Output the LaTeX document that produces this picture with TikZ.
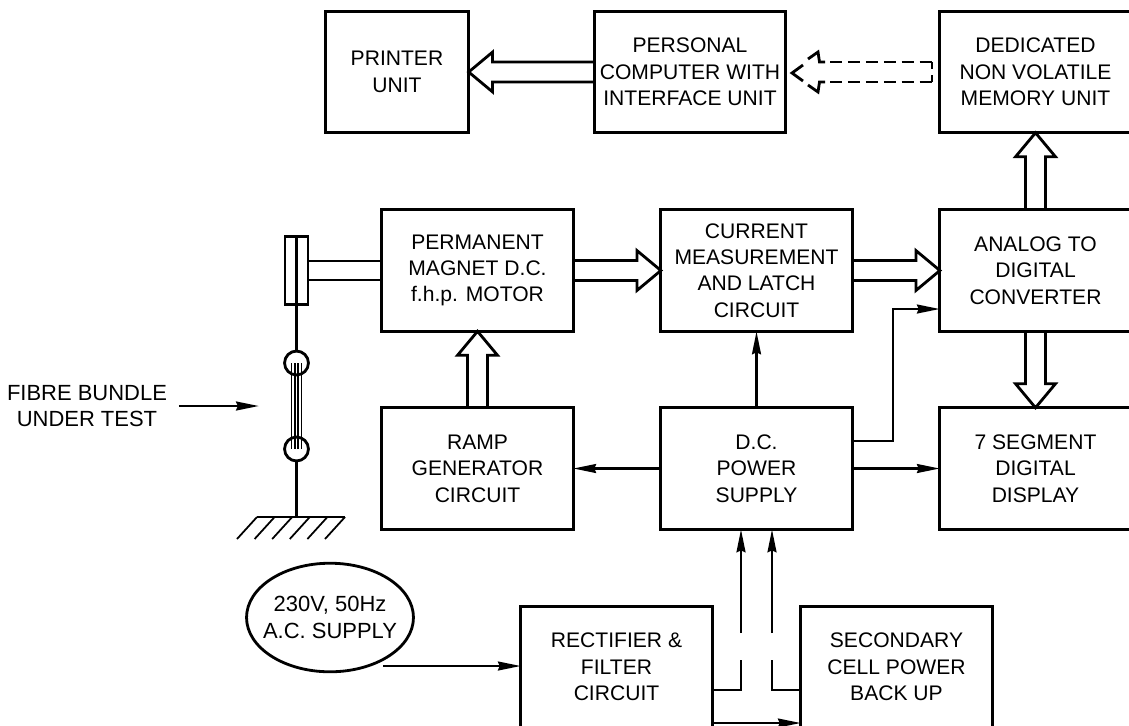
\documentclass[tikz,border=0pt]{standalone}
\usepackage{fontspec}
\setmainfont{Liberation Sans}
\usetikzlibrary{arrows.meta}
\usetikzlibrary{calc}
\usetikzlibrary{shapes.geometric}
\tikzset{block/.style = {draw, align = center, outer sep = 0, inner sep = 0,
                         minimum width = 108.85pt, minimum height = 69.2pt,
                         font = \fontsize{12}{15}\selectfont}}
\tikzset{label/.style = {align = center, outer sep = 0, inner ysep = 0, inner xsep = 6.8pt,
                         font = \fontsize{12.5}{15}\selectfont}}
\tikzset{grip/.style = {draw, circle, outer sep = 0, inner sep = 0, minimum size = 13.6pt}}
\tikzset{fatline/.style = {line join = miter, line cap = butt}}
\newcommand{\fatarrow}[2]{
  \coordinate (neck) at ($(#2)!13.6pt!(#1)$);
  \draw [fatline] ($(#1)!5.67pt!90:(#2)$) -- ($(neck)!5.67pt!90:(#2)$)
    -- ($(neck)!11.34pt!90:(#2)$) -- (#2) -- ($(neck)!11.34pt!-90:(#2)$)
    -- ($(neck)!5.67pt!-90:(#2)$) -- ($(#1)!5.67pt!-90:(#2)$);
}
\begin{document}
\begin{tikzpicture}[x = 0.02cm, y = -0.02cm, line width = 1.6pt,
                    >={Stealth[length = 13pt, width = 5pt, inset = 1pt]}]
  \useasboundingbox (0, 0) rectangle (1129, 725);
  \clip (0, 0) rectangle (1129, 725);

  \node [block, minimum width = 81.6pt] (printer) at (397, 72) {PRINTER\\UNIT};
  \node [block] (personal) at (690, 72) {PERSONAL\\COMPUTER WITH\\INTERFACE UNIT};
  \node [block] (memory) at (1035.5, 72) {DEDICATED\\NON VOLATILE\\MEMORY UNIT};
  \node [block] (motor) at (477.5, 270.5) {PERMANENT\\MAGNET D.C.\\f.h.p. MOTOR};
  \node [block] (current) at (756.5, 270.5) {CURRENT\\MEASUREMENT\\AND LATCH\\CIRCUIT};
  \node [block] (adc) at (1035.5, 270.5) {ANALOG TO\\DIGITAL\\CONVERTER};
  \node [block] (ramp) at (477.5, 468.5) {RAMP\\GENERATOR\\CIRCUIT};
  \node [block] (supply) at (756.5, 468.5) {D.C.\\POWER\\SUPPLY};
  \node [block] (display) at (1035.5, 468.5) {7 SEGMENT\\DIGITAL\\DISPLAY};
  \node [block] (rectifier) at (616.5, 667) {RECTIFIER \&\\FILTER\\CIRCUIT};
  \node [block] (secondary) at (896.5, 667) {SECONDARY\\CELL POWER\\BACK UP};
  \node [label] (fibre) at (87, 406) {FIBRE BUNDLE\\UNDER TEST};
  \node [block, ellipse, inner xsep = -4.5pt, minimum width = 94.1pt, minimum height = 61.8pt,
         font = \fontsize{12.5}{15}\selectfont] (mains) at (330, 617.5) {230V, 50Hz\\A.C. SUPPLY};

  % test rig
  \node [draw, outer sep = 0, inner sep = 0, minimum width = 13pt, minimum height = 39.1pt] (clamp) at (296.5, 270.5) {};
  \node [grip] (gripa) at (296.5, 363) {};
  \node [grip] (gripb) at (296.5, 449) {};
  \coordinate (earth) at (296.5, 517);
  \draw (clamp.north) -- (clamp.south) -- (gripa.north);
  \draw (gripb.south) -- (earth);
  \draw (clamp.east |- 0, 261) -- (motor.west |- 0, 261);
  \draw (clamp.east |- 0, 280) -- (motor.west |- 0, 280);
  \foreach \x in {291.5, 295, 298, 301.5}
    \draw [line width = 1.1pt] (\x, 363) -- (\x, 449);
  \draw (257, 517) -- (345, 517);
  \foreach \x in {0, ..., 5}
    \draw [line width = 1pt] (257 + \x * 17.6, 517) -- +(-20, 22);
  \coordinate (fibretip) at (259, 406);
  \draw [->] (fibre.east) -- (fibretip);

  % wide signal paths
  \fatarrow{personal.west}{printer.east}
  \fatarrow{motor.east}{current.west}
  \fatarrow{current.east}{adc.west}
  \fatarrow{ramp.north}{motor.south}
  \fatarrow{adc.north}{memory.south}
  \fatarrow{adc.south}{display.north}

  % dashed one
  \coordinate (dashto) at (792, 73);
  \coordinate (dashfrom) at (932, 72);
  \draw [fatline] (803, 65) -- (dashto) -- (803, 81);
  \draw [fatline] (808, 59) -- (818, 52) -- (819.5, 62) -- (825, 62);
  \draw [fatline] (808, 85) -- (818, 92) -- (819.5, 82) -- (825, 82);
  \draw [dash pattern = on 6.8pt off 3.4pt] (830, 62) -- (dashfrom |- 0, 62);
  \draw [dash pattern = on 6.8pt off 3.4pt] (830, 82) -- (dashfrom |- 0, 82);
  \draw [fatline] (dashfrom |- 0, 62) -- +(0, 7);
  \draw [fatline] (dashfrom |- 0, 82) -- +(0, -7);

  % power lines
  \draw [->] (supply.north) -- (current.south);
  \draw [->] (supply.west) -- (ramp.east);
  \draw [->] (supply.east) -- (display.west);
  \draw [->] (supply.east |- 0, 441) -- (893, 441) -- (893, 309) -- (adc.west |- 0, 309);
  \coordinate (mainsfoot) at (383, 666);
  \draw [->] (mainsfoot) -- (rectifier.west |- mainsfoot);

  \coordinate (busa) at (741, 633);
  \coordinate (busb) at (772, 633);
  \coordinate (stuba) at (741, 660);
  \coordinate (stubb) at (772, 660);
  \draw [->] (busa) -- (supply.south -| busa);
  \draw [->] (busb) -- (supply.south -| busb);
  \draw (stuba) |- (rectifier.east |- 0, 690);
  \draw (stubb) |- (secondary.west |- 0, 690);
  \draw [->] (rectifier.east |- 0, 723) -- (secondary.west |- 0, 723);
\end{tikzpicture}
\end{document}
